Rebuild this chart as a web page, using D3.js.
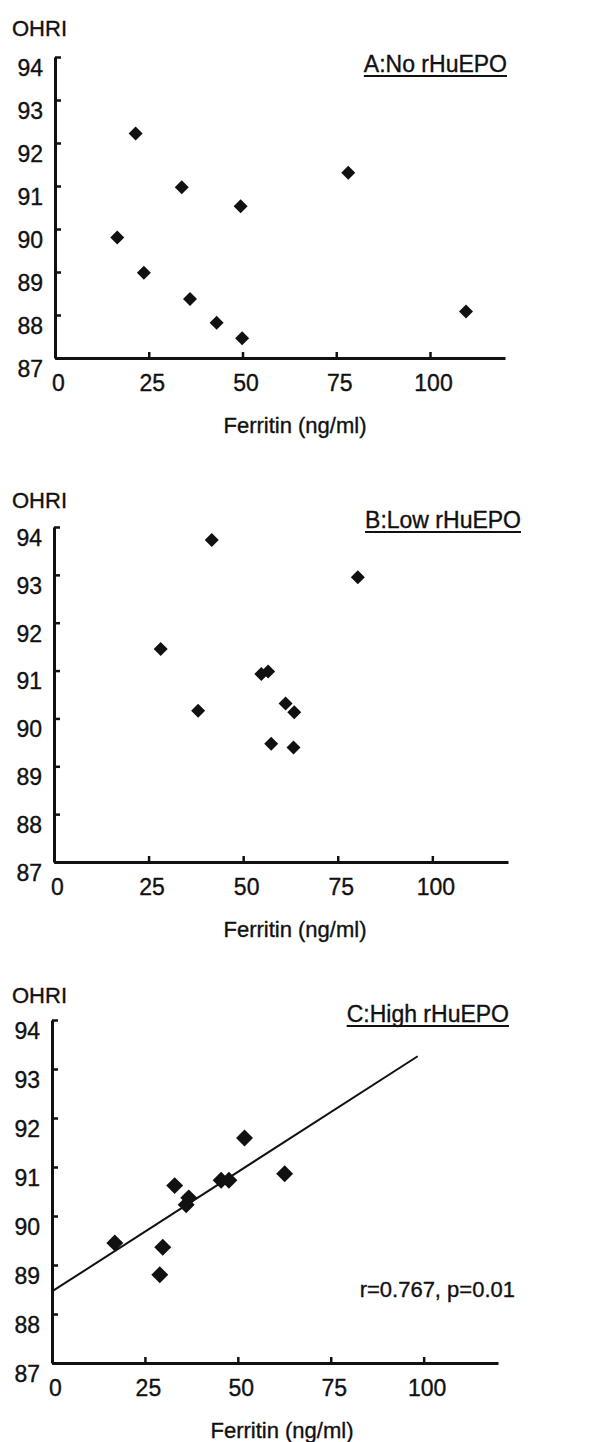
<!DOCTYPE html>
<meta charset="utf-8">
<script src="https://d3js.org/d3.v7.min.js"></script>
<style>
  body { margin: 0; background: #fff; }
  text { font-family: "Liberation Sans", Arial, sans-serif; fill: #111; stroke: #111; stroke-width: 0.35px; }
</style>
<div id="my_dataviz"></div>
<script>

// data
var xTicks = [0, 25, 50, 75, 100];
var yTicks = [87, 88, 89, 90, 91, 92, 93, 94];

var ferritinA = [16.6, 21.5, 23.7, 33.8, 36.0, 43.1, 49.5, 49.9, 78.2, 109.6];
var ohriA     = [89.80, 92.22, 88.98, 90.97, 88.37, 87.82, 90.53, 87.46, 91.31, 88.08];

var ferritinB = [28.2, 38.1, 41.7, 54.8, 56.6, 57.4, 61.2, 63.5, 63.3, 80.3];
var ohriB     = [91.45, 90.16, 93.73, 90.93, 90.98, 89.47, 90.31, 90.13, 89.39, 92.95];

var ferritinC = [16.9, 29.0, 29.8, 33.0, 36.1, 36.8, 45.5, 47.6, 51.8, 62.6];
var ohriC     = [89.45, 88.80, 89.36, 90.62, 90.23, 90.37, 90.73, 90.73, 91.59, 90.86];

// regression line for panel C (start and end of the drawn line)
var fitX = [0, 98.4];
var fitY = [88.46, 93.26];

var panels = [
  { title: "A:No rHuEPO", fx: ferritinA, fy: ohriA, left: 55, right: 505, top: 57, bottom: 358,
    ohriY: 36, titleX: 507, titleY: 72, xlabX: 295, xlabY: 433, size: 98 },
  { title: "B:Low rHuEPO", fx: ferritinB, fy: ohriB, left: 54, right: 508, top: 527, bottom: 862,
    ohriY: 508, titleX: 521, titleY: 528, xlabX: 295, xlabY: 937, size: 98 },
  { title: "C:High rHuEPO", fx: ferritinC, fy: ohriC, left: 52, right: 498, top: 1020, bottom: 1363,
    ohriY: 1003, titleX: 509, titleY: 1022, xlabX: 282, xlabY: 1438, size: 144, fit: true }
];

var svg = d3.select("#my_dataviz")
  .append("svg")
    .attr("width", 613)
    .attr("height", 1442);

panels.forEach(function(p) {
  var x = d3.scaleLinear().domain([0, 120]).range([p.left, p.right]);
  var y = d3.scaleLinear().domain([87, 94]).range([p.bottom, p.top]);

  // Y axis
  var gy = svg.append("g")
    .attr("transform", "translate(" + p.left + ",0)")
    .call(d3.axisLeft(y).tickValues(yTicks).tickFormat(d3.format("d"))
      .tickSizeInner(-6).tickSizeOuter(0).tickPadding(12));
  gy.select(".domain").attr("stroke-width", 3).attr("stroke", "#111");
  gy.selectAll(".tick line").attr("stroke-width", 2.5).attr("stroke", "#111");
  gy.selectAll(".tick text")
    .attr("transform", "translate(0,11)")
    .style("font-size", "23px")
    .style("font-family", "Liberation Sans, Arial, sans-serif")
    .attr("fill", "#111");

  // X axis
  var gx = svg.append("g")
    .attr("transform", "translate(0," + p.bottom + ")")
    .call(d3.axisBottom(x).tickValues(xTicks).tickFormat(d3.format("d"))
      .tickSizeInner(-6).tickSizeOuter(0).tickPadding(17));
  gx.select(".domain").attr("stroke-width", 3).attr("stroke", "#111");
  gx.selectAll(".tick line").attr("stroke-width", 2.5).attr("stroke", "#111")
    .filter(function(d) { return d === 0; }).remove();
  gx.selectAll(".tick text")
    .attr("transform", "translate(3,0)")
    .style("font-size", "23px")
    .style("font-family", "Liberation Sans, Arial, sans-serif")
    .attr("fill", "#111");

  // OHRI label
  svg.append("text")
    .attr("x", 12)
    .attr("y", p.ohriY)
    .style("font-size", "22px")
    .text("OHRI");

  // panel title, underlined
  var t = svg.append("text")
    .attr("x", p.titleX)
    .attr("y", p.titleY)
    .attr("text-anchor", "end")
    .style("font-size", "23px")
    .text(p.title);
  var w = t.node().getComputedTextLength();
  svg.append("line")
    .attr("x1", p.titleX - w).attr("x2", p.titleX)
    .attr("y1", p.titleY + 4).attr("y2", p.titleY + 4)
    .attr("stroke", "#111")
    .attr("stroke-width", 1.8);

  // x label
  svg.append("text")
    .attr("x", p.xlabX)
    .attr("y", p.xlabY)
    .attr("text-anchor", "middle")
    .style("font-size", "22px")
    .text("Ferritin (ng/ml)");

  // regression line
  if (p.fit) {
    svg.append("line")
      .attr("x1", x(fitX[0])).attr("y1", y(fitY[0]))
      .attr("x2", x(fitX[1])).attr("y2", y(fitY[1]))
      .attr("stroke", "#111")
      .attr("stroke-width", 2);
    svg.append("text")
      .attr("x", 515)
      .attr("y", 1297)
      .attr("text-anchor", "end")
      .style("font-size", "22px")
      .text("r=0.767, p=0.01");
  }

  // diamonds
  var sym = d3.symbol().type(d3.symbolSquare).size(p.size);
  svg.append("g")
    .selectAll("path")
    .data(p.fx.map(function(v, i) { return [v, p.fy[i]]; }))
    .enter()
    .append("path")
      .attr("d", sym)
      .attr("transform", function(d) { return "translate(" + x(d[0]) + "," + y(d[1]) + ") rotate(45)"; })
      .attr("fill", "#111");
});
</script>
